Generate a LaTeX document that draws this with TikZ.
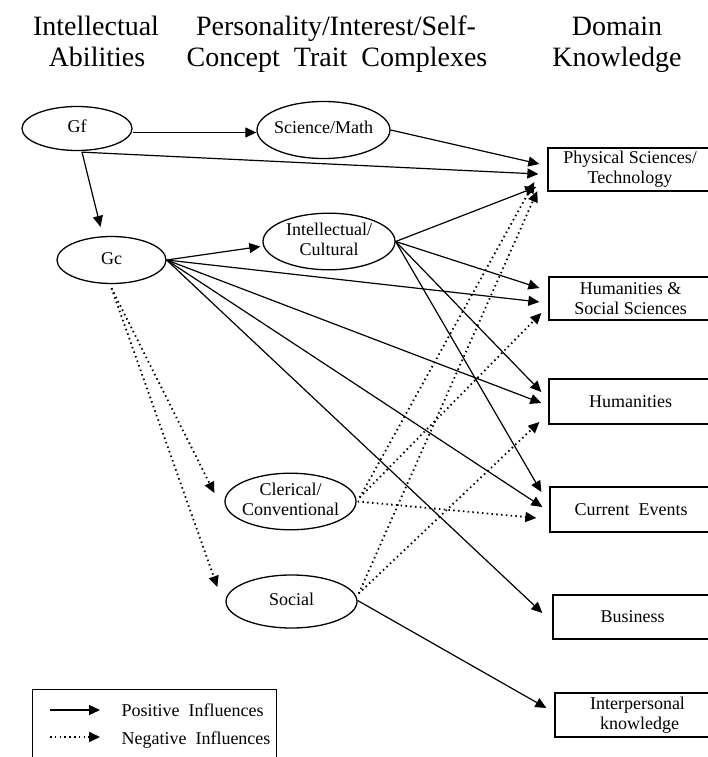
\documentclass[tikz,border=0pt]{standalone}
\usepackage{fontspec}
\setmainfont{Liberation Serif}
\usetikzlibrary{shapes.geometric,arrows.meta,calc}
\newcommand\dgnodefont{\fontsize{18}{20}\selectfont}
\newcommand\dghdrfont{\fontsize{28}{31}\selectfont}
\newcommand\ellt[1]{\makebox[0pt]{\begin{tabular}{@{}c@{}}#1\end{tabular}}}
\begin{document}
\begin{tikzpicture}[x=1pt,y=-1pt,
  trait/.style={ellipse,draw,line width=1.3pt,inner sep=0pt,font=\dgnodefont},
  dombox/.style={rectangle,draw,line width=1.3pt,inner sep=0pt,align=center,font=\dgnodefont},
  posarr/.style={line width=1.2pt,-{Triangle[length=11pt,width=10pt]}},
  negarr/.style={line width=1.8pt,dash pattern=on 1.5pt off 3.3pt,-{Triangle[length=11pt,width=10pt]}},
  hdr/.style={font=\dghdrfont,anchor=base},
  legtext/.style={font=\dgnodefont,anchor=base west}]
\useasboundingbox[fill=white] (0,0) rectangle (708,757);

% headers
\node[hdr] (h1a) at (96,36) {Intellectual};
\node[hdr] (h1b) at (97,67) {Abilities};
\node[hdr] (h2a) at (336,36) {Personality/Interest/Self-};
\node[hdr] (h2b) at (337,67) {Concept\ \ Trait\ \ Complexes};
\node[hdr] (h3a) at (617,36) {Domain};
\node[hdr] (h3b) at (617,67) {Knowledge};

% ability / trait ellipses
\node[trait,minimum width=110,minimum height=44] (gf) at (77,128.5) {\ellt{Gf}};
\node[trait,minimum width=133,minimum height=57] (sci) at (323.5,130) {\ellt{Science/Math}};
\node[trait,minimum width=109,minimum height=47] (gc) at (111.5,260) {\ellt{Gc}};
\node[trait,minimum width=132,minimum height=54] (intel) at (329,241.5) {\ellt{Intellectual/\\Cultural}};
\node[trait,minimum width=131,minimum height=53] (cler) at (290.5,501.5) {\ellt{Clerical/\\Conventional}};
\node[trait,minimum width=131,minimum height=53] (soc) at (291.5,601.5) {\ellt{Social}};

% domain boxes
\node[dombox,minimum width=164,minimum height=43] (phys) at (630,169.5) {Physical Sciences/\\Technology};
\node[dombox,minimum width=163,minimum height=43] (humss) at (630.5,298.5) {Humanities \&\\Social Sciences};
\node[dombox,minimum width=163,minimum height=45] (hum) at (630.5,401.5) {Humanities};
\node[dombox,minimum width=162,minimum height=45] (cur) at (631,509.5) {Current\ \ Events};
\node[dombox,minimum width=159,minimum height=44] (bus) at (632.5,617) {Business};
\node[dombox,minimum width=157,minimum height=44] (inter) at (633.5,715) {\hspace*{8pt}Interpersonal\\\hspace*{12pt}knowledge};

% positive influences
\draw[posarr] ($(gf.east)+(0,4)$) -- ($(gf.east -| sci.west)+(0,4)$);
\draw[posarr] ($(gf.south)+(5,1)$) -- ($(gc.north)+(-11,-9)$);
\draw[posarr] ($(gf.south)+(5,1)$) -- ($(phys.west)+(-9,4.5)$);
\draw[posarr] (sci.east) -- ($(phys.west)+(-8,-5.5)$);
\draw[posarr] (gc.east) -- ($(intel.west)+(-2,5)$);
\draw[posarr] (gc.east) -- ($(humss.west)+(-9,3.5)$);
\draw[posarr] (gc.east) -- ($(hum.west)+(-7,1.5)$);
\draw[posarr] (gc.east) -- ($(cur.west)+(-7,-2.5)$);
\draw[posarr] (gc.east) -- ($(bus.west)+(-10,-4)$);
\draw[posarr] (intel.east) -- ($(phys.west)+(-11,17.5)$);
\draw[posarr] (intel.east) -- ($(humss.west)+(-9,-10.5)$);
\draw[posarr] (intel.east) -- ($(hum.west)+(-7,-9.5)$);
\draw[posarr] (intel.east) -- ($(cur.west)+(-8,-17.5)$);
\draw[posarr] ($(soc.east)+(0,-1)$) -- ($(inter.west)+(-8,-7)$);

% negative influences
\draw[negarr] ($(gc.south)+(0,4)$) -- ($(cler.west)+(-10,-8.5)$);
\draw[negarr] ($(gc.south)+(0,4)$) -- ($(soc.west)+(-8,-14.5)$);
\draw[negarr] ($(cler.east)+(3,-4)$) -- ($(phys.west)+(-13,12.5)$);
\draw[negarr] ($(cler.east)+(3,-4)$) -- ($(humss.west)+(-7,14.5)$);
\draw[negarr] ($(cler.east)+(1,0)$) -- ($(cur.west)+(-13,8.5)$);
\draw[negarr] ($(soc.east)+(1,-8)$) -- ($(phys.west)+(-10,21.5)$);
\draw[negarr] ($(soc.east)+(1,-8)$) -- ($(hum.west)+(-9,20.5)$);

% legend
\node[draw,line width=1.3pt,minimum width=244,minimum height=90,inner sep=0pt,anchor=north west] (legend) at (32,689) {};
\coordinate (ls1) at (50,710);
\coordinate (le1) at (100,710);
\coordinate (ls2) at (50,737);
\coordinate (le2) at (100,737);
\draw[posarr] (ls1) -- (le1);
\draw[negarr] (ls2) -- (le2);
\node[legtext] (lpos) at (118,716) {Positive\ \ Influences};
\node[legtext] (lneg) at (118,744) {Negative\ \ Influences};
\end{tikzpicture}
\end{document}
